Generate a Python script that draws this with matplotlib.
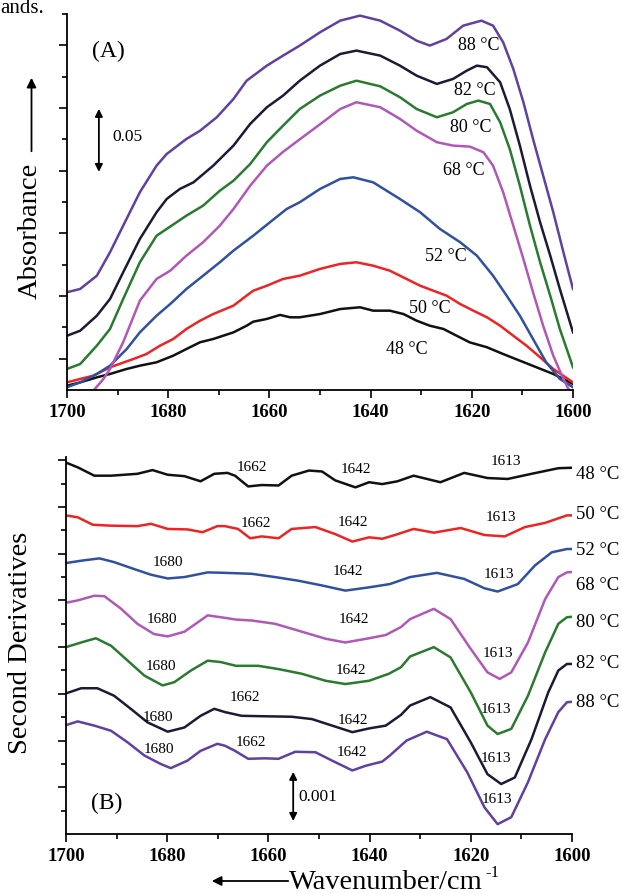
import numpy as np
import matplotlib
matplotlib.use('Agg')
from matplotlib import pyplot as plt
from matplotlib.ticker import FixedLocator

plt.rcParams['font.family'] = ['Liberation Serif', 'DejaVu Serif']

temps = ['48 °C', '50 °C', '52 °C', '68 °C', '80 °C', '82 °C', '88 °C']
colors = ['#111111', '#ec2424', '#3050a0', '#b058b8', '#2a7a30', '#1e1a36', '#6040a0']

# ---- panel A : absorbance spectra ----
a48_wn = [1700, 1697.4, 1694.1, 1691.5, 1688.2, 1685.6, 1682.3, 1679.0, 1676.4, 1673.7, 1671.1, 1667.1, 1664.5, 1663.2,
          1660.5, 1657.9, 1655.9, 1654.0, 1650.0, 1646.0, 1642.1, 1639.5, 1636.2, 1633.5, 1630.9, 1628.3, 1625.6,
          1623.0, 1620.4, 1617.0, 1613.8, 1610.5, 1607.2, 1603.9, 1600]
a48 = [0.0034, 0.0061, 0.0101, 0.0128, 0.0168, 0.0194, 0.0221, 0.0274, 0.0327, 0.0381, 0.0407, 0.046, 0.0513, 0.0545,
       0.0567, 0.0599, 0.058, 0.058, 0.0606, 0.0646, 0.066, 0.0633, 0.0633, 0.0606, 0.0553, 0.0513, 0.0487,
       0.0433, 0.038, 0.0341, 0.0287, 0.0234, 0.0181, 0.0128, 0.0048]

a50_wn = [1700, 1697.4, 1694.8, 1691.5, 1686.9, 1684.3, 1681.6, 1679.0, 1676.4, 1673.7, 1671.1, 1667.1, 1664.5, 1663.2,
          1660.5, 1657.3, 1654.0, 1650.0, 1646.0, 1642.8, 1639.5, 1636.2, 1632.9, 1630.2, 1627.6, 1625.0, 1622.3,
          1619.7, 1617.0, 1614.4, 1611.8, 1609.2, 1606.5, 1603.9, 1600]
a50 = [0.0061, 0.0088, 0.0114, 0.0181, 0.0247, 0.0287, 0.0354, 0.0407, 0.0487, 0.0553, 0.0606, 0.0673, 0.0753, 0.0792,
       0.0832, 0.0886, 0.0912, 0.0966, 0.1006, 0.1019, 0.0992, 0.0952, 0.0886, 0.0832, 0.0792, 0.0753, 0.0686,
       0.0633, 0.058, 0.0513, 0.0433, 0.0354, 0.0261, 0.0168, 0.0061]

a52_wn = [1700, 1697.4, 1694.1, 1691.5, 1688.2, 1685.6, 1682.3, 1679.6, 1676.4, 1673.1, 1669.8, 1667.1, 1663.2, 1659.9,
          1656.6, 1654.0, 1650.0, 1646.0, 1643.4, 1639.5, 1634.2, 1630.2, 1626.3, 1622.3, 1619.0, 1615.8, 1613.1,
          1610.5, 1607.9, 1605.3, 1602.6, 1600]
a52 = [0.0022, 0.0061, 0.0128, 0.0194, 0.0327, 0.046, 0.0593, 0.0686, 0.0806, 0.0912, 0.1019, 0.1112, 0.1231, 0.1338,
       0.1444, 0.1498, 0.1604, 0.1684, 0.1697, 0.1657, 0.1524, 0.1418, 0.1285, 0.1179, 0.1072, 0.0912, 0.0752,
       0.0593, 0.0407, 0.0221, 0.0088, 0.0022]

a68_wn = [1697.0, 1694.8, 1692.8, 1691.5, 1688.9, 1685.6, 1682.3, 1679.6, 1676.4, 1673.1, 1669.8, 1667.1, 1663.8,
          1660.5, 1657.3, 1654.0, 1650.0, 1646.0, 1642.8, 1638.1, 1634.2, 1630.9, 1626.9, 1623.7, 1620.4, 1617.7,
          1615.8, 1613.8, 1611.8, 1609.8, 1607.9, 1605.9, 1603.9, 1601.9, 1600.9, 1600]
a68 = [-0.02, -0.0006, 0.0088, 0.0168, 0.0381, 0.0713, 0.0886, 0.0952, 0.1072, 0.1179, 0.1311, 0.1444, 0.163,
       0.179, 0.190, 0.200, 0.212, 0.2242, 0.2296, 0.2256, 0.2163, 0.2069, 0.1977, 0.195, 0.1942, 0.1897,
       0.179, 0.1578, 0.1311, 0.1045, 0.078, 0.0513, 0.0274, 0.0088, 0.0008, -0.003]

a80_wn = [1700, 1697.4, 1694.1, 1691.5, 1688.9, 1685.6, 1682.3, 1680.3, 1676.4, 1673.1, 1669.8, 1667.1, 1663.8, 1660.5,
          1657.3, 1654.0, 1650.0, 1646.0, 1642.8, 1638.1, 1634.2, 1630.9, 1626.9, 1623.7, 1621.0, 1618.7, 1616.4,
          1614.4, 1612.5, 1610.5, 1608.5, 1606.5, 1604.5, 1602.6, 1600]
a80 = [0.0168, 0.0207, 0.0354, 0.0487, 0.0726, 0.1019, 0.1231, 0.1285, 0.1391, 0.1471, 0.159, 0.167, 0.1803, 0.1977,
       0.2109, 0.2242, 0.2349, 0.2428, 0.2468, 0.2423, 0.2336, 0.2242, 0.2176, 0.2216, 0.2282, 0.2309, 0.2282,
       0.2136, 0.1923, 0.163, 0.1311, 0.1019, 0.0752, 0.0487, 0.0181]

a82_wn = [1700, 1697.4, 1694.1, 1691.5, 1688.9, 1685.6, 1682.3, 1680.3, 1677.7, 1675.0, 1671.1, 1667.1, 1663.8, 1660.5,
          1657.3, 1654.0, 1650.0, 1646.0, 1642.8, 1638.1, 1634.2, 1630.9, 1626.9, 1623.7, 1621.0, 1619.0, 1617.0,
          1614.4, 1612.5, 1610.5, 1608.5, 1606.5, 1604.5, 1602.6, 1600]
a82 = [0.0433, 0.0473, 0.0593, 0.0726, 0.0939, 0.1205, 0.1418, 0.1524, 0.1604, 0.1657, 0.179, 0.195, 0.2123, 0.2256,
       0.2349, 0.2468, 0.2588, 0.2681, 0.2708, 0.2668, 0.2588, 0.2508, 0.2442, 0.2482, 0.2548, 0.2588, 0.2575,
       0.2455, 0.2242, 0.195, 0.163, 0.1338, 0.1072, 0.0806, 0.046]

a88_wn = [1700, 1697.4, 1694.1, 1691.5, 1688.9, 1685.6, 1682.3, 1680.3, 1676.4, 1673.7, 1670.4, 1667.1, 1664.5, 1660.5,
          1657.3, 1654.0, 1650.0, 1646.0, 1642.1, 1638.1, 1634.2, 1630.9, 1628.3, 1625.0, 1621.7, 1618.1, 1615.8,
          1613.8, 1611.8, 1609.8, 1607.9, 1605.9, 1603.9, 1601.9, 1600]
a88 = [0.078, 0.0806, 0.0912, 0.1099, 0.1311, 0.1578, 0.179, 0.1883, 0.2003, 0.2069, 0.2176, 0.2322, 0.2468, 0.2588,
       0.2668, 0.2748, 0.2854, 0.2947, 0.2987, 0.2947, 0.2867, 0.2787, 0.2748, 0.2801, 0.2907, 0.2947, 0.2907,
       0.2774, 0.2562, 0.2296, 0.2003, 0.1711, 0.1419, 0.1100, 0.0806]

# label positions panel A (wavenumber, absorbance)
a_lab_wn = [1632.8, 1628.3, 1625.1, 1621.5, 1620.2, 1619.4, 1618.6]
a_lab_y = [0.033, 0.066, 0.107, 0.176, 0.210, 0.240, 0.276]

# ---- panel B : second derivatives, stacked, units of 0.001 ----
b48_wn = [1700, 1697.7, 1694.4, 1691.1, 1685.9, 1682.9, 1679.9, 1676.6, 1673.4, 1670.7, 1668.1, 1666.6, 1664, 1661.3,
          1658, 1655.4, 1652, 1649.4, 1646.8, 1642.8, 1640.1, 1637.5, 1634.5, 1631.3, 1626, 1621.3, 1616.7, 1612.7,
          1608, 1602.7, 1600]
b48 = [7.95, 7.85, 7.67, 7.67, 7.71, 7.79, 7.69, 7.66, 7.55, 7.71, 7.73, 7.67, 7.44, 7.47,
       7.46, 7.67, 7.78, 7.76, 7.57, 7.42, 7.53, 7.49, 7.55, 7.67, 7.53, 7.73, 7.62, 7.60,
       7.71, 7.83, 7.84]

b50_wn = [1700, 1697.7, 1694.7, 1691.1, 1685.9, 1683.2, 1679.9, 1676, 1673, 1670.1, 1668.6, 1666, 1663.6, 1661.3,
          1658, 1655.4, 1650.7, 1646.8, 1643.4, 1640.1, 1637.5, 1635, 1631.3, 1627.3, 1622, 1617.3, 1613.3, 1609.3,
          1605.3, 1601, 1600]
b50 = [6.82, 6.78, 6.62, 6.60, 6.59, 6.64, 6.53, 6.52, 6.46, 6.59, 6.59, 6.53, 6.33, 6.37,
       6.33, 6.53, 6.57, 6.42, 6.26, 6.35, 6.32, 6.40, 6.53, 6.45, 6.55, 6.40, 6.37, 6.57,
       6.66, 6.82, 6.82]

b52_wn = [1700, 1697, 1693.4, 1690.5, 1686.5, 1683.2, 1679.9, 1676.6, 1672, 1668.6, 1663.3, 1658.7, 1654, 1649.4,
          1644.8, 1640.1, 1636, 1632, 1626.7, 1621.3, 1617.3, 1614.7, 1610.7, 1607.3, 1604, 1601, 1600]
b52 = [5.80, 5.85, 5.90, 5.82, 5.67, 5.55, 5.47, 5.50, 5.60, 5.59, 5.57, 5.50, 5.42, 5.32,
       5.21, 5.28, 5.35, 5.50, 5.59, 5.46, 5.26, 5.19, 5.35, 5.75, 6.03, 6.10, 6.10]

b68_wn = [1700, 1697.7, 1694.4, 1692.4, 1689.1, 1685.9, 1682.6, 1679.9, 1676.6, 1672, 1669.4, 1666.4, 1663.3, 1658.7,
          1654, 1648.7, 1644.8, 1640.1, 1636.8, 1633.8, 1632, 1627.3, 1624, 1620, 1616.7, 1614.3, 1612, 1608.7,
          1605.3, 1602.7, 1601, 1600]
b68 = [4.95, 5.00, 5.10, 5.09, 4.82, 4.50, 4.28, 4.23, 4.33, 4.68, 4.64, 4.59, 4.57, 4.50,
       4.35, 4.18, 4.10, 4.19, 4.26, 4.43, 4.60, 4.82, 4.60, 3.96, 3.46, 3.32, 3.46, 4.10,
       5.03, 5.50, 5.60, 5.61]

b80_wn = [1700, 1697, 1694.1, 1691.1, 1687.8, 1684.5, 1680.9, 1678.6, 1675.3, 1672, 1669.4, 1666.4, 1662, 1658,
          1653.4, 1648.7, 1644.8, 1640.1, 1636.2, 1633.8, 1632, 1627.3, 1624, 1620, 1616.7, 1614.7, 1612, 1608.7,
          1605.3, 1602.7, 1601, 1600]
b80 = [4.00, 4.10, 4.19, 4.03, 3.71, 3.39, 3.18, 3.25, 3.50, 3.71, 3.68, 3.60, 3.60, 3.53,
       3.43, 3.28, 3.21, 3.28, 3.43, 3.57, 3.80, 4.00, 3.78, 3.03, 2.32, 2.14, 2.25, 2.96,
       3.89, 4.50, 4.64, 4.65]

b82_wn = [1700, 1697, 1693.8, 1690.5, 1687.2, 1683.9, 1679.9, 1676.6, 1673.4, 1670.7, 1668.6, 1665.3, 1660.7, 1655.4,
          1651.4, 1647.4, 1643.4, 1640.1, 1636.8, 1633.8, 1632, 1628, 1624, 1620, 1616.7, 1614, 1611.3, 1608,
          1604.7, 1602.7, 1601, 1600]
b82 = [3.01, 3.12, 3.12, 2.96, 2.68, 2.39, 2.19, 2.28, 2.53, 2.68, 2.61, 2.53, 2.52, 2.51,
       2.46, 2.32, 2.18, 2.26, 2.32, 2.55, 2.75, 2.93, 2.71, 1.96, 1.28, 1.07, 1.21, 2.03,
       3.03, 3.50, 3.64, 3.64]

b88_wn = [1700, 1697.7, 1694.4, 1691.1, 1687.8, 1684.5, 1681.3, 1679.3, 1676, 1673.4, 1670.1, 1668.6, 1666.6, 1664,
          1660.7, 1658, 1654.7, 1650.7, 1647.4, 1643.4, 1640.8, 1637.5, 1636, 1632.7, 1628.7, 1624.7, 1620.7, 1617.3,
          1614.7, 1612, 1608.7, 1605.3, 1602.7, 1601, 1600]
b88 = [2.33, 2.41, 2.32, 2.21, 1.96, 1.68, 1.50, 1.41, 1.57, 1.78, 1.93, 1.89, 1.78, 1.61,
       1.62, 1.61, 1.76, 1.75, 1.57, 1.36, 1.46, 1.55, 1.68, 2.00, 2.19, 2.03, 1.32, 0.57,
       0.21, 0.36, 1.11, 2.03, 2.61, 2.82, 2.83]

# band labels panel B : (text, wavenumber, y)
b_bands = [('1662', 1663.3, 7.87), ('1642', 1642.7, 7.82), ('1613', 1613.1, 7.99),
           ('1662', 1662.5, 6.67), ('1642', 1643.2, 6.69), ('1613', 1614.0, 6.79),
           ('1680', 1679.8, 5.84), ('1642', 1644.2, 5.63), ('1613', 1614.4, 5.58),
           ('1680', 1681.1, 4.62), ('1642', 1643.1, 4.62), ('1613', 1614.6, 3.89),
           ('1680', 1681.2, 3.60), ('1642', 1643.7, 3.52), ('1613', 1615.0, 2.68),
           ('1680', 1681.8, 2.52), ('1662', 1664.6, 2.94), ('1642', 1643.2, 2.46), ('1613', 1615.0, 1.64),
           ('1680', 1681.6, 1.84), ('1662', 1663.5, 1.98), ('1642', 1643.5, 1.77), ('1613', 1614.9, 0.76)]
b_lab_y = [7.71, 6.85, 6.10, 5.35, 4.55, 3.68, 2.83]

W, H = 621, 895
fig = plt.figure(figsize=(W / 100, H / 100), dpi=100)
axA = fig.add_axes([67 / W, 1 - 391 / H, 506 / W, 376 / H])
axB = fig.add_axes([66 / W, 1 - 835 / H, 506 / W, 377 / H])

def style(ax):
    for s in ['top', 'right']:
        ax.spines[s].set_visible(False)
    for s in ['left', 'bottom']:
        ax.spines[s].set_linewidth(1.3)
    ax.set_xlim(1700, 1600)
    ax.xaxis.set_major_locator(FixedLocator([1700, 1680, 1660, 1640, 1620, 1600]))
    ax.xaxis.set_minor_locator(FixedLocator([1690, 1670, 1650, 1630, 1610]))
    ax.tick_params(which='both', direction='out', width=1.2)
    ax.tick_params(which='major', length=5.5, pad=4)
    ax.tick_params(which='minor', length=3.5)
    ax.tick_params(axis='y', labelleft=False)
    for t in ax.get_xticklabels():
        t.set_fontweight('bold')
        t.set_fontsize(13.5)

A_wn = [a48_wn, a50_wn, a52_wn, a68_wn, a80_wn, a82_wn, a88_wn]
A_y = [a48, a50, a52, a68, a80, a82, a88]
for wn, y, c in zip(A_wn, A_y, colors):
    axA.plot(wn, y, color=c, lw=1.8, solid_joinstyle='round')
axA.set_ylim(0, 0.3)
style(axA)
axA.yaxis.set_major_locator(FixedLocator([0.025, 0.075, 0.125, 0.175, 0.225, 0.275]))
axA.yaxis.set_minor_locator(FixedLocator([0.05, 0.10, 0.15, 0.20, 0.25, 0.30]))
for t, x, y in zip(temps, a_lab_wn, a_lab_y):
    axA.text(x, y, t, fontsize=13, ha='center', va='center')
axA.text(0.081, 0.902, '(A)', transform=axA.transAxes, fontsize=17, ha='center', va='center')
axA.annotate('', xy=(1693.7, 0.2243), xytext=(1693.7, 0.174),
             arrowprops=dict(arrowstyle='<|-|>', color='k', lw=1.3, mutation_scale=11, shrinkA=0, shrinkB=0))
axA.text(1691.1, 0.2027, '0.05', fontsize=12.5, ha='left', va='center')

B_wn = [b48_wn, b50_wn, b52_wn, b68_wn, b80_wn, b82_wn, b88_wn]
B_y = [b48, b50, b52, b68, b80, b82, b88]
for wn, y, c in zip(B_wn, B_y, colors):
    axB.plot(wn, y, color=c, lw=1.8, solid_joinstyle='round')
axB.set_ylim(0, 8.07)
style(axB)
axB.yaxis.set_major_locator(FixedLocator([1, 2, 3, 4, 5, 6, 7, 8]))
axB.yaxis.set_minor_locator(FixedLocator([0.5, 1.5, 2.5, 3.5, 4.5, 5.5, 6.5, 7.5]))
for txt, x, y in b_bands:
    axB.text(x, y, txt, fontsize=11, ha='center', va='center')
for t, y in zip(temps, b_lab_y):
    axB.text(1599.2, y, t, fontsize=13.5, ha='left', va='center', clip_on=False)
axB.text(0.081, 0.085, '(B)', transform=axB.transAxes, fontsize=17, ha='center', va='center')
axB.annotate('', xy=(1655.1, 1.33), xytext=(1655.1, 0.28),
             arrowprops=dict(arrowstyle='<|-|>', color='k', lw=1.3, mutation_scale=11, shrinkA=0, shrinkB=0))
axB.text(1654.0, 0.82, '0.001', fontsize=12.5, ha='left', va='center')

# axis titles
fig.text(30 / W, 1 - 231 / H, 'Absorbance', rotation=90, fontsize=20.5, ha='center', va='center')
fig.patches.append(matplotlib.patches.FancyArrowPatch((31.5 / W, 1 - 155 / H), (31.5 / W, 1 - 76 / H),
                   transform=fig.transFigure, arrowstyle='-|>', color='k', lw=1.3, mutation_scale=14))
fig.text(21 / W, 1 - 643 / H, 'Second Derivatives', rotation=90, fontsize=20.5, ha='center', va='center')
fig.text(289 / W, 1 - 889 / H, 'Wavenumber/cm', fontsize=20.5, ha='left', va='baseline')
fig.text(485 / W, 1 - 873 / H, '-1', fontsize=12, ha='left', va='center')
fig.patches.append(matplotlib.patches.FancyArrowPatch((291 / W, 1 - 882 / H), (209 / W, 1 - 882 / H),
                   transform=fig.transFigure, arrowstyle='-|>', color='k', lw=1.3, mutation_scale=14))
fig.text(0.0, 1 - 13 / H, 'ands.', fontsize=15, ha='left', va='baseline')

fig.savefig('out.png', dpi=100)
